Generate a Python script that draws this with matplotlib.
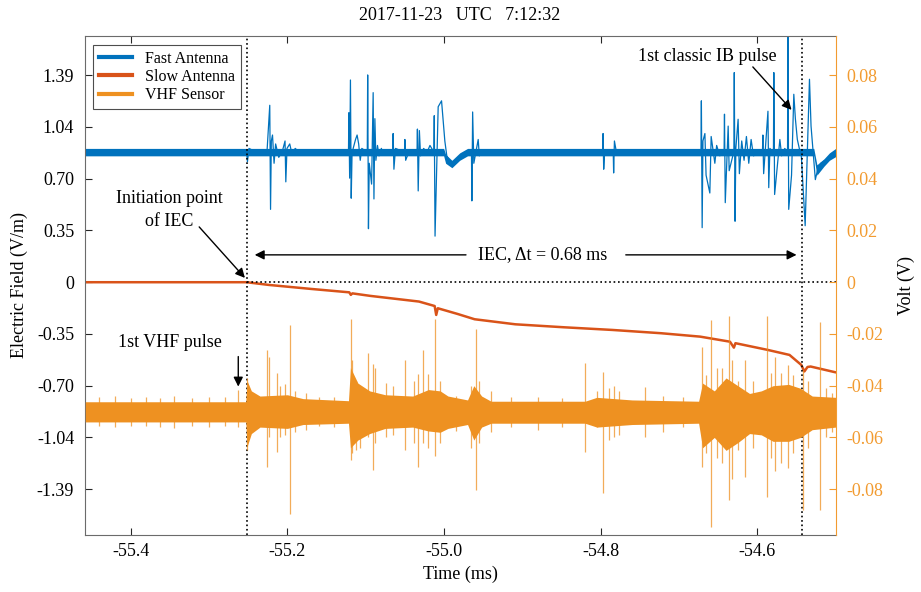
import matplotlib
matplotlib.use("Agg")
import matplotlib.pyplot as plt
from matplotlib.lines import Line2D

plt.rcParams['font.family'] = ['Liberation Serif', 'DejaVu Serif']
plt.rcParams['axes.unicode_minus'] = False

# scale between the two y axes (V/m per V)
SCALE = 17.4

# --- Fast antenna (V/m): waveform through the pulses ---
fa_t = [-55.458, -55.252, -55.251, -55.249, -55.240, -55.226, -55.2225, -55.2215, -55.2205, -55.219,
        -55.217, -55.215, -55.211, -55.2065, -55.2030, -55.2020, -55.2005, -55.197, -55.194, -55.190,
        -55.185, -55.122, -55.1215, -55.1205, -55.1195, -55.1185, -55.1175, -55.116, -55.113, -55.111,
        -55.109, -55.107, -55.105, -55.098, -55.0975, -55.0965, -55.0955, -55.0925, -55.0905, -55.0895,
        -55.0883, -55.087, -55.085, -55.083, -55.080, -55.0777, -55.0655, -55.065, -55.064, -55.062,
        -55.0505, -55.050, -55.049, -55.045, -55.0345, -55.034, -55.033, -55.0315, -55.030, -55.026,
        -55.022, -55.018, -55.013, -55.0125, -55.0115, -55.0075, -55.0032, -54.999, -54.9965, -54.9904,
        -54.985, -54.976, -54.9695, -54.965, -54.9645, -54.9635, -54.962, -54.9564, -54.955, -54.950,
        -54.945, -54.7975, -54.797, -54.7962, -54.795, -54.784, -54.7835, -54.7825, -54.780, -54.672,
        -54.6715, -54.6705, -54.6695, -54.667, -54.6655, -54.6607, -54.659, -54.6543, -54.652, -54.648,
        -54.6425, -54.642, -54.641, -54.6373, -54.636, -54.630, -54.6295, -54.6285, -54.6275, -54.6246,
        -54.623, -54.620, -54.617, -54.614, -54.611, -54.608, -54.605, -54.5935, -54.593, -54.592,
        -54.5865, -54.5855, -54.584, -54.5795, -54.579, -54.578, -54.5713, -54.569, -54.565, -54.5615,
        -54.561, -54.560, -54.5564, -54.5535, -54.5515, -54.549, -54.5465, -54.544, -54.539, -54.5335,
        -54.5315, -54.526, -54.523, -54.519, -54.5075, -54.500]
fa_v = [0.875, 0.875, 0.81, 0.90, 0.875, 0.88, 1.19, 0.49, 0.95, 0.99,
        0.80, 0.93, 0.84, 0.88, 0.95, 0.675, 0.90, 0.93, 0.86, 0.90,
        0.875, 0.875, 1.14, 0.70, 1.36, 0.565, 0.85, 0.90, 0.96, 0.99,
        0.93, 0.82, 0.90, 0.875, 1.394, 0.36, 0.80, 0.66, 1.275, 0.56,
        1.10, 0.82, 0.92, 0.85, 0.90, 0.86, 0.875, 1.00, 0.76, 0.90,
        0.875, 0.96, 0.82, 0.875, 0.875, 1.03, 0.614, 1.02, 0.85, 0.90,
        0.87, 0.92, 0.875, 1.12, 0.31, 1.18, 1.22, 0.95, 0.85, 0.79,
        0.80, 0.86, 0.88, 0.875, 0.547, 1.145, 0.80, 0.96, 0.85, 0.89,
        0.875, 0.875, 1.00, 0.76, 0.875, 0.875, 0.735, 0.95, 0.875, 0.875,
        1.22, 0.367, 0.95, 1.00, 0.72, 0.60, 0.98, 0.80, 0.92, 0.85,
        0.88, 1.13, 0.535, 1.05, 0.75, 0.88, 1.41, 0.41, 0.90, 1.096,
        0.73, 0.95, 0.82, 0.98, 0.80, 0.96, 0.85, 0.88, 0.99, 0.73,
        1.15, 0.636, 0.90, 0.87, 1.41, 0.59, 0.96, 0.85, 0.90, 0.87,
        1.70, 0.49, 0.72, 1.264, 1.10, 0.96, 0.90, 0.86, 0.38, 1.365,
        1.05, 0.69, 0.76, 0.80, 0.84, 0.87]
# noise band of the fast antenna baseline
fa_env_t = [-55.458, -55.0005, -54.998, -54.990, -54.980, -54.970, -54.966, -54.528, -54.524, -54.515, -54.508, -54.500]
fa_env_hi = [0.900, 0.900, 0.86, 0.82, 0.87, 0.90, 0.900, 0.900, 0.79, 0.83, 0.87, 0.90]
fa_env_lo = [0.850, 0.850, 0.80, 0.77, 0.82, 0.85, 0.850, 0.850, 0.72, 0.78, 0.82, 0.845]

# --- Slow antenna (V/m) ---
sa_t = [-55.458, -55.252, -55.224, -55.170, -55.121, -55.119, -55.117, -55.094, -55.032,
        -55.012, -55.010, -55.008, -54.983, -54.961, -54.909, -54.847, -54.785, -54.723, -54.673,
        -54.635, -54.630, -54.628, -54.587, -54.559, -54.544, -54.540, -54.536, -54.532, -54.501]
sa_v = [0.0, 0.0, -0.018, -0.045, -0.068, -0.085, -0.075, -0.092, -0.13,
        -0.16, -0.22, -0.175, -0.213, -0.249, -0.283, -0.303, -0.321, -0.343, -0.366,
        -0.40, -0.44, -0.41, -0.455, -0.489, -0.556, -0.60, -0.57, -0.567, -0.605]

# --- VHF sensor (V): baseline band envelope ---
vhf_env_t = [-55.458, -55.253, -55.2515, -55.246, -55.235, -55.200, -55.180, -55.122, -55.1195, -55.110,
             -55.095, -55.075, -55.040, -55.020, -55.005, -54.995, -54.970, -54.962, -54.952, -54.940,
             -54.820, -54.805, -54.760, -54.675, -54.670, -54.655, -54.640, -54.625, -54.610, -54.595,
             -54.580, -54.560, -54.545, -54.530, -54.500]
vhf_env_hi = [-0.0462, -0.0462, -0.0380, -0.0420, -0.0440, -0.0435, -0.0450, -0.0458, -0.0330, -0.0390,
              -0.0420, -0.0435, -0.0440, -0.0415, -0.0420, -0.0440, -0.0455, -0.0400, -0.0440, -0.0460,
              -0.0460, -0.0445, -0.0455, -0.0460, -0.0390, -0.0420, -0.0370, -0.0400, -0.0430, -0.0420,
              -0.0400, -0.0395, -0.0410, -0.0440, -0.0445]
vhf_env_lo = [-0.0540, -0.0540, -0.0636, -0.0585, -0.0560, -0.0565, -0.0550, -0.0545, -0.0640, -0.0610,
              -0.0585, -0.0565, -0.0560, -0.0575, -0.0580, -0.0565, -0.0550, -0.0610, -0.0560, -0.0545,
              -0.0545, -0.0560, -0.0550, -0.0545, -0.0640, -0.0600, -0.0650, -0.0620, -0.0585, -0.0590,
              -0.0615, -0.0615, -0.0600, -0.0570, -0.0560]
# VHF individual spikes: time, top, bottom (V)
vhf_sp_t = [-55.440, -55.420, -55.400, -55.380, -55.362, -55.345, -55.322, -55.300, -55.280, -55.2627,
            -55.2513, -55.2257, -55.2235, -55.2137, -55.209, -55.203, -55.1967, -55.190, -55.1767, -55.160,
            -55.140, -55.1193, -55.1175, -55.113, -55.107, -55.0968, -55.0904, -55.088, -55.0738, -55.065,
            -55.050, -55.0385, -55.033, -55.0266, -55.020, -55.0117, -55.005, -54.985, -54.9655, -54.9593,
            -54.956, -54.940, -54.915, -54.880, -54.850, -54.820, -54.805, -54.7969, -54.790, -54.783,
            -54.777, -54.7436, -54.720, -54.695, -54.6713, -54.666, -54.6594, -54.652, -54.645, -54.6364,
            -54.632, -54.625, -54.616, -54.605, -54.5883, -54.582, -54.578, -54.570, -54.5607, -54.555,
            -54.5416, -54.535, -54.5202, -54.512, -54.505]
vhf_sp_hi = [-0.0445, -0.0440, -0.0448, -0.0445, -0.0447, -0.0440, -0.0446, -0.0445, -0.0444, -0.0416,
             -0.0370, -0.0262, -0.0290, -0.0352, -0.0400, -0.0395, -0.0165, -0.0420, -0.0430, -0.0445,
             -0.0445, -0.0143, -0.0300, -0.0380, -0.0400, -0.0274, -0.0315, -0.0330, -0.0390, -0.0400,
             -0.0300, -0.0380, -0.0354, -0.0262, -0.0354, -0.0143, -0.0380, -0.0440, -0.0400, -0.0182,
             -0.0380, -0.0420, -0.0445, -0.0445, -0.0446, -0.0313, -0.0420, -0.0348, -0.0410, -0.0400,
             -0.0420, -0.0404, -0.0440, -0.0445, -0.0249, -0.0360, -0.0146, -0.0330, -0.0330, -0.0130,
             -0.0300, -0.0380, -0.0300, -0.0380, -0.0130, -0.0350, -0.0290, -0.0350, -0.0320, -0.0360,
             -0.0340, -0.0380, -0.0155, -0.0410, -0.0430]
vhf_sp_lo = [-0.0556, -0.0560, -0.0555, -0.0555, -0.0558, -0.0565, -0.0556, -0.0560, -0.0557, -0.0560,
             -0.0650, -0.0713, -0.0600, -0.0655, -0.0600, -0.0590, -0.0896, -0.0580, -0.0570, -0.0556,
             -0.0558, -0.0687, -0.0660, -0.0650, -0.0640, -0.0600, -0.0726, -0.0620, -0.0600, -0.0590,
             -0.0648, -0.0620, -0.0713, -0.0620, -0.0640, -0.0670, -0.0620, -0.0575, -0.0640, -0.0803,
             -0.0620, -0.0580, -0.0560, -0.0570, -0.0558, -0.0655, -0.0560, -0.0816, -0.0610, -0.0600,
             -0.0590, -0.0600, -0.0580, -0.0560, -0.0713, -0.0660, -0.0945, -0.0680, -0.0700, -0.0841,
             -0.0760, -0.0650, -0.0751, -0.0640, -0.0829, -0.0680, -0.0730, -0.0700, -0.0720, -0.0660,
             -0.0880, -0.0640, -0.0880, -0.0600, -0.0580]

# event markers (ms)
t_init = -55.252
t_ib = -54.543

right_ticks = [-0.08, -0.06, -0.04, -0.02, 0, 0.02, 0.04, 0.06, 0.08]
x_ticks = [-55.4, -55.2, -55.0, -54.8, -54.6]

c_fast = '#0072BD'
c_slow = '#D95319'
c_vhf = '#EE9121'
c_axis_r = '#F29B30'
c_spine = '#262626'

fig = plt.figure(figsize=(9.21, 5.92), dpi=100)
ax = fig.add_axes([0.0926, 0.0963, 0.8148, 0.8429])
ax2 = ax.twinx()

# left axis data
ax.fill_between(fa_env_t, fa_env_lo, fa_env_hi, color=c_fast, lw=0)
ax.plot(fa_t, fa_v, color=c_fast, lw=0.9)
ax.plot(sa_t, sa_v, color=c_slow, lw=1.8)

# right axis data
ax2.fill_between(vhf_env_t, vhf_env_lo, vhf_env_hi, color=c_vhf, lw=0)
ax2.vlines(vhf_sp_t, vhf_sp_lo, vhf_sp_hi, color=c_vhf, lw=0.9, alpha=0.75)

ylim_left = (-1.70, 1.656)
ax.set_ylim(ylim_left)
ax2.set_ylim(ylim_left[0] / SCALE, ylim_left[1] / SCALE)
ax.set_xlim(-55.458, -54.500)

# event markers
for t in (t_init, t_ib):
    ax.axvline(t, color='k', ls=':', lw=1.2)
ax.plot([t_init, -54.500], [0, 0], color='k', ls=':', lw=1.2)

# ticks
left_ticks = [v * SCALE for v in right_ticks]
ax.set_yticks(left_ticks)
ax.set_yticklabels(['0' if v == 0 else '%.2f' % v for v in left_ticks])
ax2.set_yticks(right_ticks)
ax2.set_yticklabels(['0' if v == 0 else '%.2f' % v for v in right_ticks])
ax.set_xticks(x_ticks)
ax.set_xticklabels(['%.1f' % v for v in x_ticks])

ax.tick_params(axis='both', direction='in', length=5, width=0.8, labelsize=13, colors=c_spine,
               labelcolor='k', top=True, pad=6)
ax.tick_params(axis='y', pad=8)
ax2.tick_params(axis='y', direction='in', length=5, width=0.8, labelsize=13, colors=c_axis_r, pad=8)
for s in ['left', 'bottom', 'top']:
    ax.spines[s].set_color('#6b6b6b')
ax2.spines['right'].set_color(c_axis_r)
ax2.spines['left'].set_visible(False)
ax2.spines['top'].set_visible(False)
ax2.spines['bottom'].set_visible(False)
ax.spines['right'].set_visible(False)

ax.set_xlabel('Time (ms)', fontsize=13, labelpad=4)
ax.set_ylabel('Electric Field (V/m)', fontsize=13, labelpad=6)
ax2.set_ylabel('Volt (V)', fontsize=13, rotation=90, labelpad=10)

fig.text(0.4995, 1 - 15 / 592, '2017-11-23   UTC   7:12:32', ha='center', va='center', fontsize=13)

# annotations
arrow = dict(arrowstyle='-|>', color='k', lw=1.0, mutation_scale=14, shrinkA=0, shrinkB=0)
ax.annotate('', xy=(-55.2417, 0.184), xytext=(-54.972, 0.184), arrowprops=arrow)
ax.annotate('', xy=(-54.550, 0.184), xytext=(-54.768, 0.184), arrowprops=arrow)
ax.text(-54.874, 0.184, 'IEC, \u0394t = 0.68 ms', ha='center', va='center', fontsize=13)

ax.text(-55.3512, 0.483, 'Initiation point\nof IEC', ha='center', va='center', fontsize=13,
        linespacing=1.45)
ax.annotate('', xy=(-55.2542, 0.029), xytext=(-55.3126, 0.372), arrowprops=arrow)

ax.text(-54.6633, 1.515, '1st classic IB pulse', ha='center', va='center', fontsize=13)
ax.annotate('', xy=(-54.5564, 1.159), xytext=(-54.6058, 1.448), arrowprops=arrow)

ax.text(-55.3497, -0.4035, '1st VHF pulse', ha='center', va='center', fontsize=13)
ax.annotate('', xy=(-55.2627, -0.702), xytext=(-55.2627, -0.50), arrowprops=arrow)

handles = [Line2D([], [], color=c_fast, lw=3), Line2D([], [], color=c_slow, lw=3),
           Line2D([], [], color=c_vhf, lw=3)]
leg = ax2.legend(handles, ['Fast Antenna', 'Slow Antenna', 'VHF Sensor'], loc='upper left',
                 bbox_to_anchor=(0.0103, 0.982), borderaxespad=0, fancybox=False, framealpha=1,
                 edgecolor='#4d4d4d', fontsize=11.5, handlelength=2.1, labelspacing=0.15,
                 borderpad=0.35, handletextpad=0.8)
leg.get_frame().set_linewidth(0.8)

fig.savefig('out.png', dpi=100)
